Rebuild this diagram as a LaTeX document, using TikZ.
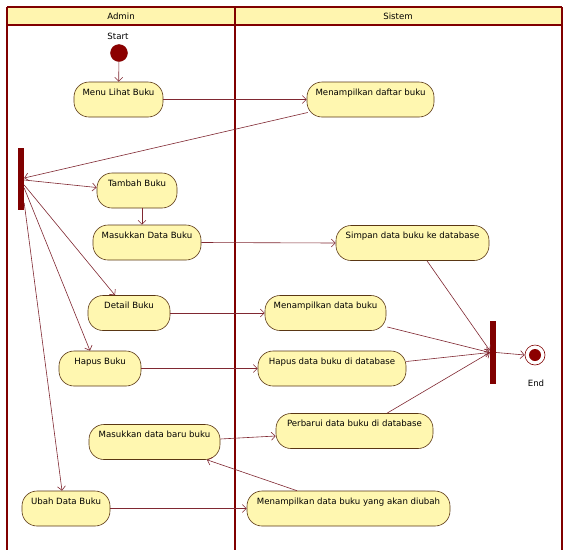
\documentclass[tikz,border=0pt]{standalone}
\usepackage{fontspec}
\setmainfont{DejaVu Sans}
\usetikzlibrary{arrows.meta,calc}
\definecolor{lane}{RGB}{128,0,0}
\definecolor{hdr}{RGB}{255,245,175}
\definecolor{act}{RGB}{255,247,176}
\definecolor{actline}{RGB}{90,55,20}
\definecolor{conn}{RGB}{128,40,50}
\definecolor{startc}{RGB}{140,0,0}
\begin{document}
\begin{tikzpicture}[x=1pt,y=-1pt, font=\fontsize{8.6}{10}\selectfont,
 activity/.style={draw=actline, line width=0.6pt, fill=act, rounded corners=15pt,
   text height=9pt, text depth=18pt, inner ysep=4pt, inner xsep=0pt, align=center},
 flow/.style={draw=conn, line width=0.6pt, -{Straight Barb[length=4pt,width=8pt]}},
 syncbar/.style={fill=lane, draw=none, minimum width=6pt, inner sep=0pt},
 lanel/.style={draw=lane, line width=1.8pt}]
\useasboundingbox (0,0) rectangle (566,558);
\fill[white] (0,0) rectangle (566,558);
% swimlanes
\fill[hdr] (7,7) rectangle (562,25);
\draw[lanel] (7,7) -- (562,7);
\draw[lanel] (7,25) -- (562,25);
\draw[lanel] (7,7) -- (7,550);
\draw[lanel] (235,7) -- (235,550);
\draw[lanel] (562,7) -- (562,550);
\node (hA) at (121,16) {Admin};
\node (hS) at (398,16) {Sistem};
% start / end
\node[circle, fill=startc, draw=lane, minimum size=17pt, inner sep=0pt] (start) at (119,53) {};
\node (startl) at (118,36) {Start};
\node[circle, draw=lane, fill=white, line width=0.6pt, minimum size=20pt, inner sep=0pt] (end) at (535,355) {};
\node[circle, fill=startc, minimum size=12pt, inner sep=0pt] (endin) at (end) {};
\node (endl) at (536,383) {End};
% bars
\node[syncbar, minimum height=62pt] (fork) at (21,179) {};
\node[syncbar, minimum height=63pt] (join) at (493,352.5) {};
% activities - Admin
\node[activity, minimum width=89pt] (menu) at (118.5,99.5) {Menu Lihat Buku};
\node[activity, minimum width=80pt] (tambah) at (137,190.5) {Tambah Buku};
\node[activity, minimum width=108pt] (masuk) at (147,242.5) {Masukkan Data Buku};
\node[activity, minimum width=82pt] (detail) at (129,313) {Detail Buku};
\node[activity, minimum width=82pt] (hapus) at (100,368.5) {Hapus Buku};
\node[activity, minimum width=131pt] (baru) at (154.5,442) {Masukkan data baru buku};
\node[activity, minimum width=88pt] (ubah) at (66,508.5) {Ubah Data Buku};
% activities - Sistem
\node[activity, minimum width=127pt] (daftar) at (370.5,99.5) {Menampilkan daftar buku};
\node[activity, minimum width=153pt] (simpan) at (412.5,243) {Simpan data buku ke database};
\node[activity, minimum width=121pt] (tampil) at (325.5,313) {Menampilkan data buku};
\node[activity, minimum width=148pt] (hapusdb) at (332,368.5) {Hapus data buku di database};
\node[activity, minimum width=157pt] (perbarui) at (354.5,431) {Perbarui data buku di database};
\node[activity, minimum width=203pt] (ubahdb) at (348.5,508.5) {Menampilkan data buku yang akan diubah};
% connectors
\draw[flow] (start) -- (menu);
\draw[flow] (menu.east) -- (daftar.west);
\draw[flow] ($(daftar.west)+(1,13)$) -- ($(fork.east)+(0,-1)$);
\draw[flow] ($(fork.east)+(0,1)$) -- ($(tambah.west)+(0,-3)$);
\draw[flow] ($(tambah.south)+(5,0)$) -- ($(masuk.north)+(-5,0)$);
\draw[flow] ($(fork.east)+(0,6)$) -- ($(detail.north)+(-14,0)$);
\draw[flow] ($(fork.east)+(0,9)$) -- ($(hapus.north)+(-10,0)$);
\draw[flow] ($(fork.east)+(0,24)$) -- ($(ubah.north)+(-4,0)$);
\draw[flow] (masuk.east) -- (simpan.west);
\draw[flow] (detail.east) -- (tampil.west);
\draw[flow] (hapus.east) -- (hapusdb.west);
\draw[flow] ($(baru.east)+(0,-3)$) -- ($(perbarui.west)+(0,5)$);
\draw[flow] (ubah.east) -- (ubahdb.west);
\draw[flow] ($(ubahdb.north)+(-51.5,0)$) -- ($(baru.south)+(52.5,0)$);
\draw[flow] ($(simpan.south)+(14.5,0)$) -- ($(join.west)+(0,-2)$);
\draw[flow] ($(tampil.east)+(1,14)$) -- (join.west);
\draw[flow] ($(hapusdb.east)+(0,-7)$) -- (join.west);
\draw[flow] ($(perbarui.north)+(32.5,0)$) -- (join.west);
\draw[flow] (join.east) -- (end.west);
\end{tikzpicture}
\end{document}
